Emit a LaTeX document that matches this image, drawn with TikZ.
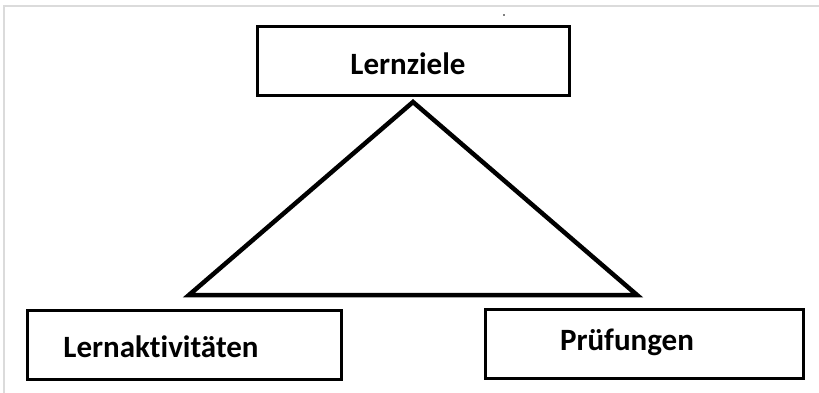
\documentclass[tikz,border=0pt]{standalone}
\usepackage{fontspec}
\setmainfont{Carlito}[Ligatures=NoCommon]
\tikzset{
  box/.style={draw, line width=3, minimum width=#1, minimum height=69, inner sep=0},
  lbl/.style={font=\fontsize{31}{37}\selectfont\bfseries, inner sep=0}
}
\begin{document}
\begin{tikzpicture}[x=1pt, y=-1pt]
\useasboundingbox (0,0) rectangle (819,393);
\draw[line width=1.5, black!14] (4,393) -- (4,6) -- (819,6);
\fill (504,15) circle (0.9);

\node[box=312] (ziele) at (413,61.5) {};
\node[box=314] (aktiv) at (184,345) {};
\node[box=318] (pruef) at (644,343.5) {};
\node[lbl] (tziele) at (408,64) {Lernziele};
\node[lbl] (taktiv) at (161,347) {Lernaktivitäten};
\node[lbl] (tpruef) at (627,342) {Prüfungen};

\coordinate (top) at (413,102);
\coordinate (left) at (189,295);
\coordinate (right) at (637,295);
\draw[line width = 4.5] (top) -- (left) -- (right) -- cycle;

\end{tikzpicture}
\end{document}
